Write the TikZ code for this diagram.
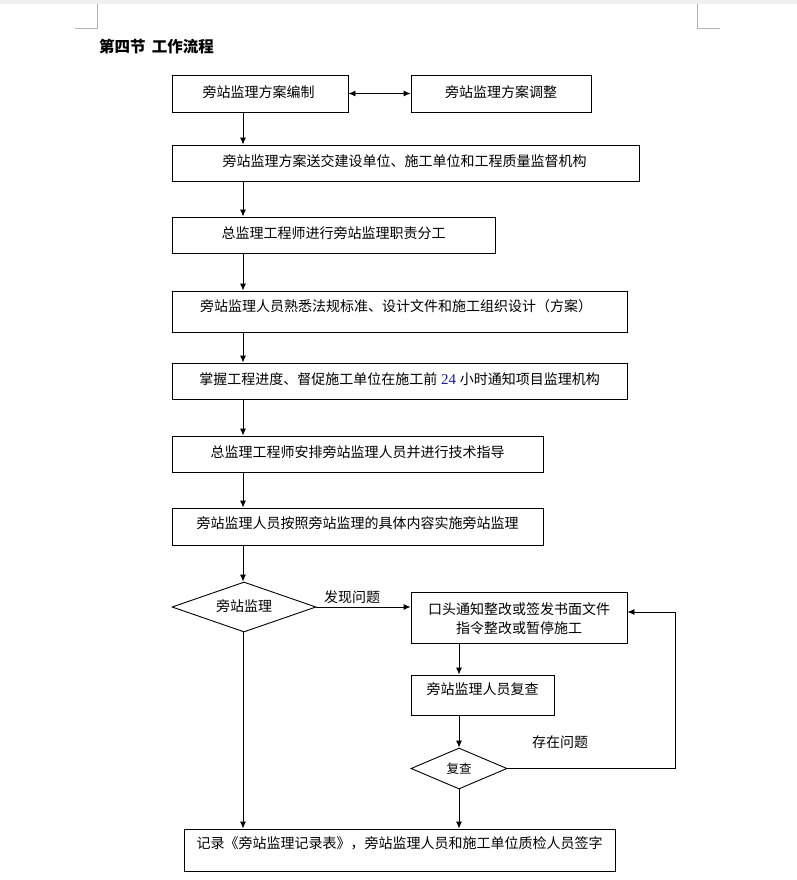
\documentclass[tikz,border=0pt]{standalone}
\usepackage{fontspec}
\setmainfont{Noto Sans CJK SC}
\newfontfamily\numfont{Liberation Serif}
\usetikzlibrary{arrows.meta,shapes.geometric}
\begin{document}
\begin{tikzpicture}[x=1pt,y=-1pt,
  box/.style={draw=black,line width=0.9pt,rectangle,inner sep=0pt},
  dia/.style={draw=black,line width=0.9pt,diamond,aspect=2.9,inner sep=0pt},
  txt/.style={inner sep=0pt,font=\fontsize{14}{19}\selectfont},
  arr/.style={line width=0.9pt,-{Latex[length=7pt,width=6pt]}},
  cornermark/.style={draw=black!30,line width=0.8pt}]
\useasboundingbox (0,0) rectangle (797,880);
\fill[black!6] (0,0) rectangle (797,4);
% corner marks
\coordinate (cl1) at (97,4); \coordinate (cl2) at (97,28); \coordinate (cl3) at (75,28);
\coordinate (cr1) at (697,4); \coordinate (cr2) at (697,28); \coordinate (cr3) at (720,28);
\draw[cornermark] (cl1) -- (cl2) -- (cl3);
\draw[cornermark] (cr1) -- (cr2) -- (cr3);
\coordinate (axL) at (243,0);
\coordinate (axR) at (459,0);
\node[anchor=west,inner sep=0pt,font=\fontsize{15.5}{18}\selectfont\bfseries] (title) at (99,46.5) {第四节\hspace{0.4em}工作流程};
% boxes
\node[box,minimum width=176pt,minimum height=37pt] (b1) at (260,93.5) {};
\node[txt] (t1) at (258.5,92) {旁站监理方案编制};
\node[box,minimum width=180pt,minimum height=37pt] (b2) at (501,93.5) {};
\node[txt] (t2) at (501,92) {旁站监理方案调整};
\node[box,minimum width=467pt,minimum height=36pt] (b3) at (405.5,163) {};
\node[txt] (t3) at (404.5,161) {旁站监理方案送交建设单位、施工单位和工程质量监督机构};
\node[box,minimum width=323pt,minimum height=36pt] (b4) at (333.5,235) {};
\node[txt] (t4) at (333.5,233) {总监理工程师进行旁站监理职责分工};
\node[box,minimum width=455pt,minimum height=41pt] (b5) at (399.5,311.5) {};
\node[txt] (t5) at (396,306) {旁站监理人员熟悉法规标准、设计文件和施工组织设计（方案）};
\node[box,minimum width=455pt,minimum height=36pt] (b6) at (399.5,381) {};
\node[txt] (t6) at (399.5,379) {掌握工程进度、督促施工单位在施工前{\numfont\fontsize{15}{19}\selectfont\color[rgb]{0.12,0.12,0.55}\ 24\ }小时通知项目监理机构};
\node[box,minimum width=371pt,minimum height=36pt] (b7) at (357.5,454) {};
\node[txt] (t7) at (357.5,452) {总监理工程师安排旁站监理人员并进行技术指导};
\node[box,minimum width=371pt,minimum height=37pt] (b8) at (357.5,526.5) {};
\node[txt] (t8) at (357.5,523) {旁站监理人员按照旁站监理的具体内容实施旁站监理};
\node[dia,minimum width=144pt,minimum height=50pt] (d1) at (244,607) {};
\node[txt] (td1) at (244,606) {旁站监理};
\node[box,minimum width=216pt,minimum height=51pt] (b9) at (519,617.5) {};
\node[txt,align=center] (t9) at (519,619) {口头通知整改或签发书面文件\\指令整改或暂停施工};
\node[box,minimum width=143pt,minimum height=40pt] (b10) at (482.5,695) {};
\node[txt] (t10) at (482.5,689) {旁站监理人员复查};
\node[dia,minimum width=96pt,minimum height=41pt] (d2) at (459,768.5) {};
\node[txt,font=\fontsize{12.5}{15}\selectfont] (td2) at (459,769) {复查};
\node[box,minimum width=431pt,minimum height=42pt] (b11) at (399.5,850) {};
\node[txt] (t11) at (399.5,843) {记录《旁站监理记录表》，旁站监理人员和施工单位质检人员签字};
% connectors
\draw[line width=0.9pt,{Latex[length=7pt,width=6pt]}-{Latex[length=7pt,width=6pt]}] (b1.east) -- (b2.west);
\draw[arr] (b1.south -| axL) -- (b3.north -| axL);
\draw[arr] (b3.south -| axL) -- (b4.north -| axL);
\draw[arr] (b4.south -| axL) -- (b5.north -| axL);
\draw[arr] (b5.south -| axL) -- (b6.north -| axL);
\draw[arr] (b6.south -| axL) -- (b7.north -| axL);
\draw[arr] (b7.south -| axL) -- (b8.north -| axL);
\draw[arr] (b8.south -| axL) -- (d1.north -| axL);
\draw[arr] (d1.south -| axL) -- (b11.north -| axL);
\draw[arr] (d1.east) -- (b9.west |- d1.east);
\node[txt] (l1) at (352,597) {发现问题};
\draw[arr] (b9.south -| axR) -- (b10.north -| axR);
\draw[arr] (b10.south -| axR) -- (d2.north);
\draw[arr] (d2.south) -- (b11.north -| axR);
\coordinate (c1) at (675,768.5);
\coordinate (c2) at (675,612);
\draw[arr] (d2.east) -- (c1) -- (c2) -- (b9.east |- c2);
\node[txt] (l2) at (560,742) {存在问题};
\end{tikzpicture}
\end{document}
